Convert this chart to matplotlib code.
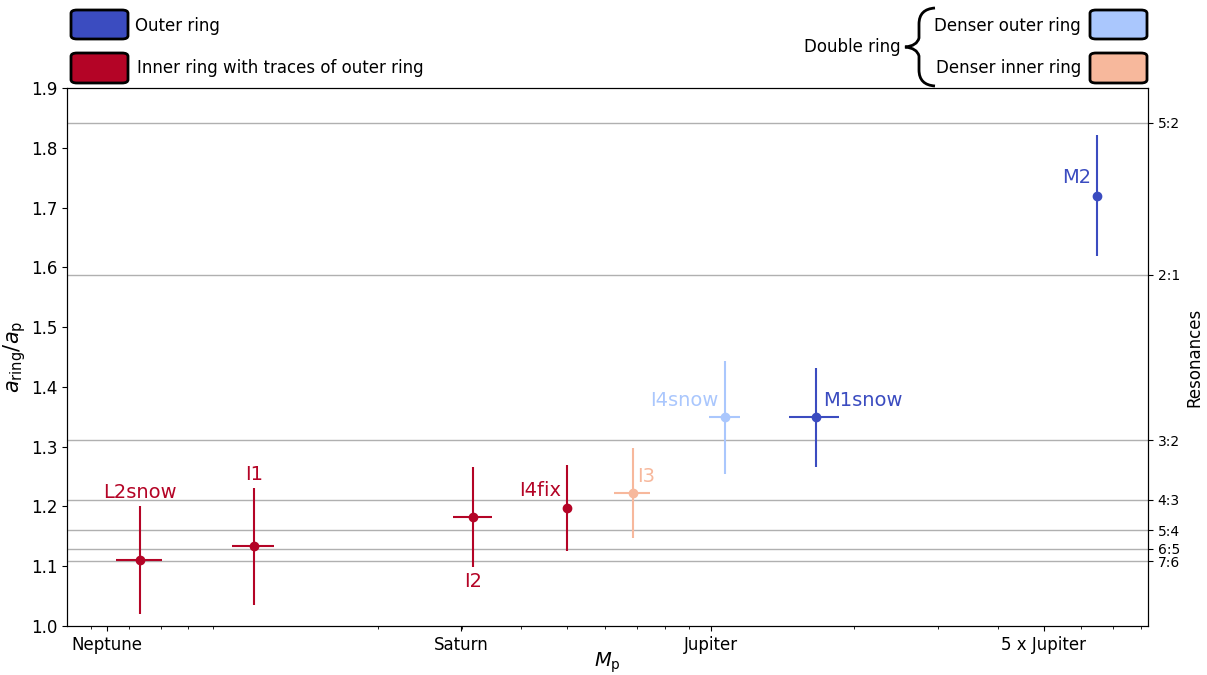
import numpy as np
import matplotlib
matplotlib.use('Agg')
import matplotlib.pyplot as plt
from matplotlib.patches import FancyBboxPatch, PathPatch
from matplotlib.path import Path

# Data (planet mass in Jupiter masses, ring location in units of a_p)
names = ['L2snow', 'I1', 'I2', 'I4fix', 'I3', 'I4snow', 'M1snow', 'M2']
mass = [0.0633, 0.110, 0.317, 0.50, 0.685, 1.07, 1.66, 6.47]
mass_err = [0.007, 0.011, 0.03, 0.0, 0.06, 0.08, 0.2, 0.0]
a_ring = [1.11, 1.133, 1.182, 1.198, 1.222, 1.349, 1.349, 1.72]
a_err = [0.09, 0.098, 0.084, 0.072, 0.075, 0.095, 0.083, 0.101]
kind = ['inner', 'inner', 'inner', 'inner', 'dense_inner', 'dense_outer', 'outer', 'outer']

planet_ticks = [0.054, 0.299, 1.0, 5.0]
planet_labels = ['Neptune', 'Saturn', 'Jupiter', '5 x Jupiter']

res_p = [5, 2, 3, 4, 5, 6, 7]
res_q = [2, 1, 2, 3, 4, 5, 6]

colors = {'outer': '#3b4cc0', 'inner': '#b40426',
          'dense_outer': '#aac7fd', 'dense_inner': '#f7b89c'}

# label placement: (x in data, y in data, ha, va)
label_pos = {
    'L2snow': (0.0633, 1.208, 'center', 'bottom'),
    'I1': (0.110, 1.238, 'center', 'bottom'),
    'I2': (0.317, 1.09, 'center', 'top'),
    'I4fix': (0.485, 1.227, 'right', 'center'),
    'I3': (0.70, 1.25, 'left', 'center'),
    'I4snow': (1.04, 1.378, 'right', 'center'),
    'M1snow': (1.72, 1.378, 'left', 'center'),
    'M2': (6.30, 1.75, 'right', 'center'),
}

W, H = 1207, 675
fig = plt.figure(figsize=(W / 100, H / 100), dpi=100)
ax = fig.add_axes([67 / W, 1 - 626 / H, (1148 - 67) / W, (626 - 88) / H])

for i, n in enumerate(names):
    c = colors[kind[i]]
    ax.errorbar(mass[i], a_ring[i], xerr=mass_err[i] if mass_err[i] > 0 else None,
                yerr=a_err[i], fmt='o', color=c, ms=6, elinewidth=1.5, capsize=0, zorder=3)
    lx, ly, ha, va = label_pos[n]
    ax.text(lx, ly, n, color=c, fontsize=14, ha=ha, va=va)

ax.set_xscale('log')
ax.set_xlim(0.0445, 8.28)
ax.set_ylim(1.0, 1.9)
ax.set_xticks(planet_ticks)
ax.set_xticklabels(planet_labels, fontsize=12)
ax.set_yticks(np.arange(1.0, 1.91, 0.1))
ax.set_yticklabels([f'{v:.1f}' for v in np.arange(1.0, 1.91, 0.1)], fontsize=12)
ax.set_xlabel(r'$M_{\rm p}$', fontsize=14, labelpad=-2)
ax.set_ylabel(r'$a_{\rm ring}/a_{\rm p}$', fontsize=15, labelpad=2)

res_y = [(p / q) ** (2 / 3) for p, q in zip(res_p, res_q)]
for y in res_y:
    ax.axhline(y, color='#b0b0b0', lw=1, zorder=1)

ax2 = ax.twinx()
ax2.set_ylim(1.0, 1.9)
ax2.set_yticks(res_y)
ax2.set_yticklabels([f'{p}:{q}' for p, q in zip(res_p, res_q)], fontsize=10)
ax2.set_ylabel('Resonances', fontsize=12, labelpad=4)

# custom legend at the top
def fx(px):
    return px / W

def fy(py):
    return 1 - py / H

def box(x0, y0, x1, y1, c):
    fig.add_artist(FancyBboxPatch((fx(x0), fy(y1)), fx(x1) - fx(x0), fy(y0) - fy(y1),
                                  boxstyle='round,pad=0,rounding_size=0.005',
                                  transform=fig.transFigure, facecolor=c,
                                  edgecolor='black', lw=2))

box(71, 10, 128, 39, colors['outer'])
box(71, 53, 128, 83, colors['inner'])
box(1090, 10, 1147, 39, colors['dense_outer'])
box(1090, 53, 1147, 83, colors['dense_inner'])
fig.text(fx(135), fy(26), 'Outer ring', fontsize=12, va='center')
fig.text(fx(137), fy(68), 'Inner ring with traces of outer ring', fontsize=12, va='center')
fig.text(fx(1081), fy(26), 'Denser outer ring', fontsize=12, va='center', ha='right')
fig.text(fx(1081), fy(68), 'Denser inner ring', fontsize=12, va='center', ha='right')
fig.text(fx(901), fy(47), 'Double ring', fontsize=12, va='center', ha='right')

# curly brace
verts = [(fx(935), fy(8)), (fx(919), fy(9)), (fx(919), fy(24)),
         (fx(919), fy(38)), (fx(917), fy(46)), (fx(905), fy(47)),
         (fx(917), fy(48)), (fx(919), fy(56)), (fx(919), fy(70)),
         (fx(919), fy(85)), (fx(935), fy(86))]
codes = [Path.MOVETO, Path.CURVE3, Path.CURVE3, Path.LINETO, Path.CURVE3, Path.CURVE3,
         Path.CURVE3, Path.CURVE3, Path.LINETO, Path.CURVE3, Path.CURVE3]
fig.add_artist(PathPatch(Path(verts, codes), transform=fig.transFigure,
                         facecolor='none', edgecolor='black', lw=2))

fig.savefig('out.png', dpi=100)
